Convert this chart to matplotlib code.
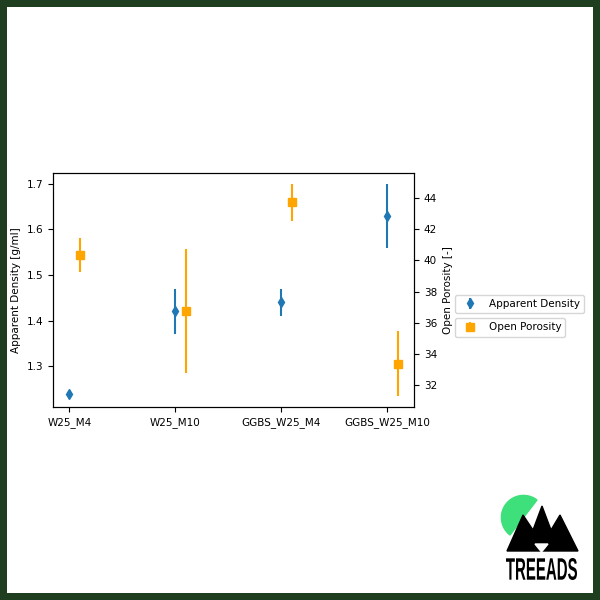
import matplotlib
matplotlib.use("Agg")
import matplotlib.pyplot as plt
import numpy as np
from matplotlib.patches import Rectangle, Polygon, PathPatch
from matplotlib.textpath import TextPath
from matplotlib.font_manager import FontProperties
from matplotlib.transforms import Affine2D

# sample mixes and measured values
mixes = ['W25_M4', 'W25_M10', 'GGBS_W25_M4', 'GGBS_W25_M10']
density = [1.24, 1.42, 1.44, 1.63]
density_err = [0.006, 0.05, 0.03, 0.07]
porosity = [40.35, 36.75, 43.7, 33.4]
porosity_err = [1.1, 3.95, 1.2, 2.1]

fs = 7.5
x = np.arange(len(mixes))

fig = plt.figure(figsize=(6, 6), dpi=100)
fig.patch.set_facecolor('#1f3d1f')
fig.patches.append(Rectangle((7 / 600, 7 / 600), 586 / 600, 586 / 600,
                             transform=fig.transFigure, facecolor='white',
                             edgecolor='none', zorder=-1))

ax = fig.add_axes([53 / 600, 1 - 407 / 600, 361 / 600, 234 / 600])
ax2 = ax.twinx()

ax.errorbar(x, density, yerr=density_err, fmt='d', color='#1f77b4',
            markersize=5.5, label='Apparent Density')
ax2.errorbar(x + 0.1, porosity, yerr=porosity_err, fmt='s', color='orange',
             markersize=6, label='Open Porosity')

ax.set_xticks(x)
ax.set_xticklabels(mixes, fontsize=fs)
ax.set_ylabel('Apparent Density [g/ml]', fontsize=fs)
ax2.set_ylabel('Open Porosity [-]', fontsize=fs)
ax.tick_params(axis='y', labelsize=fs)
ax2.tick_params(axis='y', labelsize=fs)
ax.set_yticks([1.3, 1.4, 1.5, 1.6, 1.7])
ax2.set_yticks([32, 34, 36, 38, 40, 42, 44])

ax.legend(loc='center left', bbox_to_anchor=(1.1, 0.44), fontsize=fs)
ax2.legend(loc='center left', bbox_to_anchor=(1.1, 0.34), fontsize=fs)

# logo in the lower right corner (pixel coordinates, y down)
deco = fig.add_axes([0, 0, 1, 1], zorder=5)
deco.set_xlim(0, 600)
deco.set_ylim(600, 0)
deco.axis('off')

# green leaf: half disc with its flat side on a diagonal
p0, p1 = np.array([510.0, 535.0]), np.array([537.0, 500.0])
c = (p0 + p1) / 2
r = np.linalg.norm(p1 - p0) / 2
u = (p1 - p0) / (2 * r)
v = np.array([u[1], -u[0]])
t = np.linspace(0, np.pi, 60)
leaf = c + r * (np.outer(np.cos(t), u) + np.outer(np.sin(t), v))
deco.add_patch(Polygon(leaf, closed=True, color='#3de07a'))

deco.add_patch(Polygon([(507, 551), (523, 515), (533, 530), (542, 506),
                        (551, 530), (560, 515), (578, 551)],
                       closed=True, color='black'))
deco.add_patch(Polygon([(535, 544), (548, 544), (541.5, 552)], closed=True,
                       color='white'))

tp = TextPath((0, 0), 'TREEADS', size=1,
              prop=FontProperties(family='Liberation Sans', weight='bold'))
ext = tp.get_extents()
tr = (Affine2D().translate(-ext.x0, -ext.y0)
      .scale(71 / ext.width, -22 / ext.height).translate(506, 580))
deco.add_patch(PathPatch(tr.transform_path(tp), color='black', lw=0))

fig.savefig('out.png', dpi=100)
